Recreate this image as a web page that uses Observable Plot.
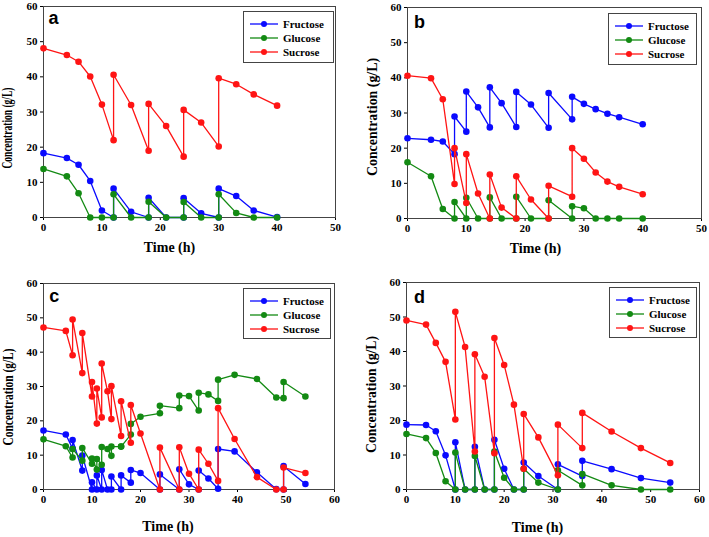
<!DOCTYPE html>
<html><head><meta charset="utf-8">
<script src="https://cdn.jsdelivr.net/npm/d3@7"></script>
<script src="https://cdn.jsdelivr.net/npm/@observablehq/plot@0.6"></script>
<style>
body{margin:0;background:#fff;}
#wrap{position:relative;width:709px;height:537px;overflow:hidden;background:#fff;}
#wrap svg.plotsvg{position:absolute;overflow:visible;}
.legend{position:absolute;border:1px solid #444;background:#fff;box-sizing:border-box;font:bold 11px "Liberation Serif","Times New Roman",serif;color:#000;}
.legend .row{position:absolute;height:12px;display:flex;align-items:center;white-space:nowrap;}
.legend .row svg{position:static;margin-right:5px;flex:none;}
</style></head><body><div id="wrap"></div>
<script>
// ---------- data ----------
const sugars = ["Fructose", "Glucose", "Sucrose"];
const sugarColors = ["#0a0aff", "#138a13", "#ff1414"];
const yTicks = [0, 10, 20, 30, 40, 50, 60];
const xTicks50 = [0, 10, 20, 30, 40, 50];
const xTicks60 = [0, 10, 20, 30, 40, 50, 60];

// panel a
const timeA = [0,4,6,8,10,12,12,15,18,18,21,24,24,27,30,30,33,36,40];
const fructoseA = [18.3,16.9,15.0,10.4,2.0,0,8.2,1.6,0,5.6,0,0,5.5,1.2,0,8.2,6.1,2.0,0.1];
const glucoseA = [13.8,11.7,6.9,0,0,0,6.6,0,0,4.5,0,0,4.4,0,0,6.6,1.3,0,0];
const sucroseA = [48.1,46.2,44.3,40.1,32.1,22.0,40.6,32.0,19.0,32.3,26.0,17.3,30.6,27.0,20.2,39.6,37.9,35.0,31.8];

// panel b
const timeB = [0,4,6,8,8,10,10,12,14,14,16,18.5,18.5,21,24,24,28,28,30,32,34,36,40];
const fructoseB = [22.8,22.4,21.9,18.3,29.0,24.7,36.1,31.6,25.9,37.3,32.8,26.0,36.0,32.4,25.8,35.7,28.2,34.6,32.6,31.1,29.8,28.8,26.8];
const glucoseB = [16.0,12.0,2.7,0,4.7,0,5.9,0,0,6.0,0,0,6.2,0,0,5.2,0,3.5,2.9,0,0,0,0];
const sucroseB = [40.6,39.9,33.9,9.8,20.0,4.4,18.3,7.1,0,12.5,3.1,0,12.0,5.4,0,9.3,6.2,20.0,17.0,13.1,10.5,9.0,6.9];

// panel c
const timeC = [0,4.6,6,6,8,8,10,10,11,11,12,12,13.2,14,14,16,16,18,18,20,24,24,28,28,30,32,32,34,36,36,39.4,44,48,49.5,49.5,54];
const fructoseC = [17.2,16.0,11.9,14.4,5.5,9.9,0,2.1,0,4.1,0,5.7,0,0,3.8,0,4.1,2.0,5.7,4.8,0,4.4,0,5.9,1.5,0,5.5,3.2,0.2,11.8,11.1,5.0,0.1,0,6.8,1.6];
const glucoseC = [14.6,12.6,9.3,11.8,8.4,12.1,7.5,9.0,5.8,8.9,7.2,12.4,11.8,9.8,12.5,12.5,12.5,16.0,19.1,21.2,22.2,24.4,23.7,27.4,27.2,23.0,28.2,27.7,25.8,32.0,33.4,32.2,26.8,26.6,31.3,27.1];
const sucroseC = [47.2,46.2,39.1,49.5,33.9,45.6,27.1,31.3,19.2,29.4,21.0,36.7,28.6,20.5,30.1,15.6,25.7,13.6,24.6,16.3,0,12.2,0,12.3,4.6,0,11.6,7.5,2.5,23.7,14.7,3.6,0,0,6.4,4.8];

// panel d
const timeD = [0,4,6,8,10,10,12,14,14,16,18,18,20,22,24,24,27,31,31,36,36,42,48,54];
const fructoseD = [18.8,18.7,16.9,9.9,0,13.7,0,0,12.4,0,0,14.4,6.0,0,0,7.8,3.9,0,7.3,3.9,8.3,5.9,3.3,2.0];
const glucoseD = [16.1,14.9,10.6,2.4,0,10.7,0,0,9.7,0,0,11.0,3.4,0,0,6.0,2.0,0,5.6,1.2,4.5,1.2,0,0];
const sucroseD = [49.0,47.8,42.5,37.0,20.3,51.5,41.3,11.0,39.2,32.7,10.5,43.9,36.1,24.6,6.0,21.9,15.1,4.1,18.8,12.0,22.2,16.8,12.0,7.7];

const xLabel = "Time (h)";
const yLabel = "Concentration (g/L)";

// ---------- layout ----------
const panels = [
  {letter:"a", time:timeA, series:[fructoseA,glucoseA,sucroseA], xMax:50, xTicks:xTicks50,
   left:0, top:0, w:350, h:262, ml:43, mr:15, mt:6, mb:45,
   xlab:[-20, 34], ylab:[-35.5, 16, 81], let:[5, 5],
   legend:{left:243, top:11, w:91, h:52}},
  {letter:"b", time:timeB, series:[fructoseB,glucoseB,sucroseB], xMax:50, xTicks:xTicks50,
   left:355, top:0, w:354, h:262, ml:52, mr:8, mt:7, mb:44,
   xlab:[-19, 34.5], ylab:[-35, 4, 118], let:[6.5, 8],
   legend:{left:608, top:12.5, w:89, h:52}},
  {letter:"c", time:timeC, series:[fructoseC,glucoseC,sucroseC], xMax:60, xTicks:xTicks60,
   left:0, top:270, w:350, h:267, ml:43, mr:16, mt:13, mb:48,
   xlab:[-21, 41], ylab:[-35.3, 10.5, 97], let:[5.7, 6],
   legend:{left:243, top:288, w:88, h:51}},
  {letter:"d", time:timeD, series:[fructoseD,glucoseD,sucroseD], xMax:60, xTicks:xTicks60,
   left:355, top:270, w:354, h:267, ml:51, mr:10, mt:12, mb:48,
   xlab:[-15.5, 42.7], ylab:[-34.7, 8.4, 117], let:[7.5, 8],
   legend:{left:609, top:287, w:88, h:51}}
];

const serif = "'Liberation Serif','Times New Roman',serif";
const wrap = document.getElementById("wrap");

for (const p of panels) {
  const seriesMarks = [];
  sugars.forEach((name, i) => {
    const rows = p.series[i].map((v, j) => ({sugar: name, t: p.time[j], v}));
    seriesMarks.push(Plot.line(rows, {x:"t", y:"v", stroke:"sugar", strokeWidth:1.3}));
    seriesMarks.push(Plot.dot(rows, {x:"t", y:"v", fill:"sugar", r:3.3}));
  });
  const svg = Plot.plot({
    width:p.w, height:p.h,
    marginLeft:p.ml, marginRight:p.mr, marginTop:p.mt, marginBottom:p.mb,
    x:{domain:[0,p.xMax]},
    y:{domain:[0,60]},
    color:{domain:sugars, range:sugarColors},
    style:{fontFamily:serif, fontSize:"11px", fontWeight:"bold", color:"#000", background:"transparent", overflow:"visible"},
    marks:[
      Plot.axisX({ticks:p.xTicks, tickSize:3, tickPadding:3, label:null}),
      Plot.axisY({ticks:yTicks, tickSize:3, tickPadding:3, label:null}),
      Plot.frame({stroke:"#444"}),
      ...seriesMarks,
      Plot.text([p.letter], {text:d=>d, frameAnchor:"top-left", textAnchor:"start", lineAnchor:"top",
        dx:p.let[0], dy:p.let[1], fontFamily:"'Liberation Sans',Arial,sans-serif", fontSize:18, fontWeight:"bold", fill:"#000"}),
      Plot.text([xLabel], {text:d=>d, frameAnchor:"bottom", lineAnchor:"bottom",
        dx:p.xlab[0], dy:p.xlab[1], fontSize:14, fontWeight:"bold", fill:"#000"}),
      Plot.text([yLabel], {text:d=>d, frameAnchor:"left", rotate:-90, textAnchor:"start",
        dx:p.ylab[0], dy:p.ylab[1] + p.ylab[2] / 2, fontSize:14, fontWeight:"bold", fill:"#000"})
    ]
  });
  svg.classList.add("plotsvg");
  svg.style.left = p.left + "px";
  svg.style.top = p.top + "px";
  svg.querySelectorAll("text").forEach(t => {
    if (t.textContent === yLabel) {
      t.setAttribute("textLength", p.ylab[2]);
      t.setAttribute("lengthAdjust", "spacingAndGlyphs");
    }
  });
  wrap.appendChild(svg);

  // legend
  const lg = document.createElement("div");
  lg.className = "legend";
  Object.assign(lg.style, {left:p.legend.left+"px", top:p.legend.top+"px", width:p.legend.w+"px", height:p.legend.h+"px"});
  sugars.forEach((name, i) => {
    const row = document.createElement("div");
    row.className = "row";
    row.style.left = "6px";
    row.style.top = (6 + i*14) + "px";
    row.innerHTML = `<svg width="28" height="8"><line x1="0" x2="28" y1="4" y2="4" stroke="${sugarColors[i]}" stroke-width="1.3"/><circle cx="14" cy="4" r="3" fill="${sugarColors[i]}"/></svg><span>${name}</span>`;
    lg.appendChild(row);
  });
  wrap.appendChild(lg);
}
</script></body></html>
